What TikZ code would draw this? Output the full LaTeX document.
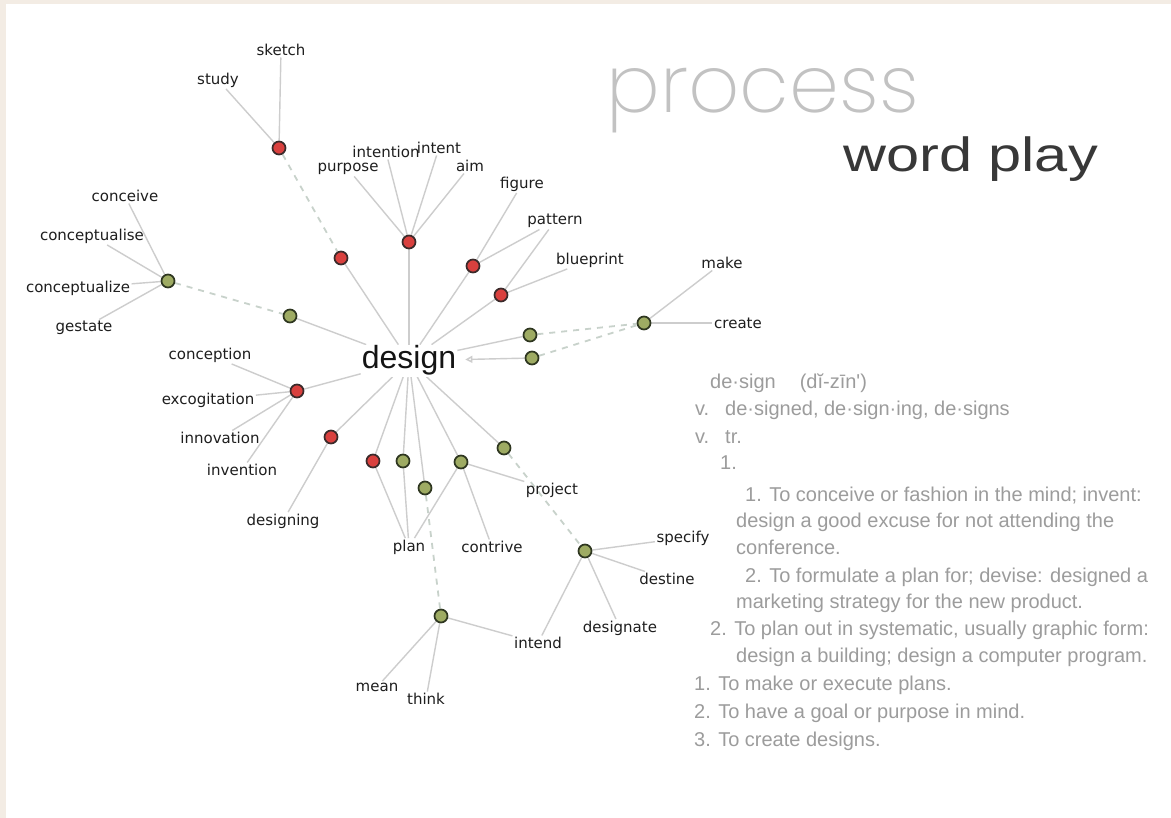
\documentclass[tikz,border=0pt]{standalone}
\usepackage{fontspec}
\setmainfont{DejaVu Sans}
\newfontfamily\deffont{Liberation Sans}
\IfFontExistsTF{Poppins ExtraLight}{\newfontfamily\thinfont{Poppins ExtraLight}}{%
 \IfFontExistsTF{Poppins Light}{\newfontfamily\thinfont{Poppins Light}}{\newfontfamily\thinfont{Liberation Sans}}}
\usetikzlibrary{arrows.meta}
\pgfdeclarelayer{back}
\pgfdeclarelayer{bg}
\pgfsetlayers{back,bg,main}
\definecolor{bgbeige}{HTML}{F3ECE4}
\definecolor{edgegray}{HTML}{CDCDCD}
\definecolor{dashgray}{HTML}{C8D2CB}
\definecolor{dotred}{HTML}{D9403E}
\definecolor{dotgreen}{HTML}{9EAB63}
\definecolor{redrim}{HTML}{3A2A2A}
\definecolor{greenrim}{HTML}{2E3620}
\definecolor{deftext}{HTML}{9C9C9C}
\definecolor{proctext}{HTML}{C2C2C2}
\definecolor{wordtext}{HTML}{383838}
\definecolor{lbltext}{HTML}{1E1E1E}
\tikzset{
  reddot/.style={circle, fill=dotred, draw=redrim, line width=1.7pt, minimum size=13pt, inner sep=0pt},
  greendot/.style={circle, fill=dotgreen, draw=greenrim, line width=1.7pt, minimum size=13pt, inner sep=0pt},
  lbl/.style={font=\fontsize{15}{17}\selectfont, text=lbltext, inner sep=1.5pt},
  edge/.style={draw=edgegray, line width=1.4pt},
  dashedge/.style={draw=dashgray, line width=1.8pt, dash pattern=on 6pt off 6pt},
  deftxt/.style={font=\deffont\fontsize{20}{22}\selectfont, text=deftext, anchor=base west, inner sep=0pt}
}
\begin{document}
\begin{tikzpicture}[x=1pt,y=-1pt]
\begin{pgfonlayer}{back}
\fill[bgbeige] (0,0) rectangle (1171,818);
\fill[white] (6,4) rectangle (1171,818);
\end{pgfonlayer}
\useasboundingbox (0,0) rectangle (1171,818);

% titles
\node[font=\thinfont\fontsize{80}{86}\selectfont, text=proctext, anchor=base west, inner sep=0pt] (process) at (606,113) {process};
\node[font=\deffont\fontsize{48}{50}\selectfont, text=wordtext, anchor=base west, inner sep=0pt] (wordplay) at (843,172) {\scalebox{1.24}[1]{word play}};

% hub
\node[font=\deffont\fontsize{32}{34}\selectfont, text=black!92, fill=white, inner sep=1pt, anchor=base] (design) at (409,369) {design};

% dots
\node[reddot] (R1) at (279,148) {};
\node[reddot] (R2) at (409,242) {};
\node[reddot] (R3) at (341,258) {};
\node[reddot] (R4) at (473,266) {};
\node[reddot] (R5) at (501,295) {};
\node[reddot] (R6) at (297,391) {};
\node[reddot] (R7) at (331,437) {};
\node[reddot] (R8) at (373,461) {};
\node[greendot] (G1) at (168,281) {};
\node[greendot] (G2) at (290,316) {};
\node[greendot] (G3) at (530,335) {};
\node[greendot] (G4) at (532,358) {};
\node[greendot] (Gm) at (644,323) {};
\node[greendot] (G5) at (403,461) {};
\node[greendot] (G6) at (425,488) {};
\node[greendot] (G7) at (461,462) {};
\node[greendot] (G8) at (504,448) {};
\node[greendot] (Gs) at (585,551) {};
\node[greendot] (Gt) at (441,616) {};

% labels
\node[lbl] (sketch) at (281,50) {sketch};
\node[lbl] (study) at (218,80) {study};
\node[lbl] (purpose) at (348,169) {purpose};
\node[lbl] (intention) at (386,152) {intention};
\node[lbl] (intent) at (439,148) {intent};
\node[lbl] (aim) at (470,166) {aim};
\node[lbl] (figure) at (522,184) {figure};
\node[lbl] (pattern) at (555,221) {pattern};
\node[lbl] (blueprint) at (590,260) {blueprint};
\node[lbl] (make) at (722,263) {make};
\node[lbl] (create) at (738,323) {create};
\node[lbl] (conceive) at (125,196) {conceive};
\node[lbl] (conceptualise) at (92,236) {conceptualise};
\node[lbl] (conceptualize) at (78,288) {conceptualize};
\node[lbl] (gestate) at (84,328) {gestate};
\node[lbl] (conception) at (210,355) {conception};
\node[lbl] (excogitation) at (208,400) {excogitation};
\node[lbl] (innovation) at (220,438) {innovation};
\node[lbl] (invention) at (242,470) {invention};
\node[lbl] (designing) at (283,521) {designing};
\node[lbl] (plan) at (409,547) {plan};
\node[lbl] (contrive) at (492,547) {contrive};
\node[lbl] (project) at (552,490) {project};
\node[lbl] (specify) at (683,538) {specify};
\node[lbl] (destine) at (667,579) {destine};
\node[lbl] (designate) at (620,628) {designate};
\node[lbl] (intend) at (538,643) {intend};
\node[lbl] (mean) at (377,687) {mean};
\node[lbl] (think) at (426,699) {think};

% edges
\begin{pgfonlayer}{bg}
\draw[edge] (R1) -- (study);
\draw[edge] (R1) -- (sketch);
\draw[dashedge] (R1) -- (R3);
\draw[edge] (R2) -- (purpose);
\draw[edge] (R2) -- (intention);
\draw[edge] (R2) -- (intent);
\draw[edge] (R2) -- (aim);
\draw[edge] (R2) -- (design);
\draw[edge] (R3) -- (design);
\draw[edge] (R4) -- (figure);
\draw[edge] (R4) -- (pattern);
\draw[edge] (R4) -- (design);
\draw[edge] (R5) -- (pattern);
\draw[edge] (R5) -- (blueprint);
\draw[edge] (R5) -- (design);
\draw[edge] (G1) -- (conceive);
\draw[edge] (G1) -- (conceptualise);
\draw[edge] (G1) -- (conceptualize);
\draw[edge] (G1) -- (gestate);
\draw[dashedge] (G1) -- (G2);
\draw[edge] (G2) -- (design);
\draw[edge] (G3) -- (design);
\draw[edge, shorten >=8pt, -{Triangle[open, length=7pt, width=7pt]}] (G4) -- (design);
\draw[dashedge] (G3) -- (Gm);
\draw[dashedge] (G4) -- (Gm);
\draw[edge] (Gm) -- (make);
\draw[edge] (Gm) -- (create);
\draw[edge] (R6) -- (conception);
\draw[edge] (R6) -- (excogitation);
\draw[edge] (R6) -- (innovation);
\draw[edge] (R6) -- (invention);
\draw[edge] (R6) -- (design);
\draw[edge] (R7) -- (designing);
\draw[edge] (R7) -- (design);
\draw[edge] (R8) -- (plan);
\draw[edge] (R8) -- (design);
\draw[edge] (G5) -- (plan);
\draw[edge] (G5) -- (design);
\draw[edge] (G6) -- (design);
\draw[dashedge] (G6) -- (Gt);
\draw[edge] (G7) -- (plan);
\draw[edge] (G7) -- (contrive);
\draw[edge] (G7) -- (project);
\draw[edge] (G7) -- (design);
\draw[edge] (G8) -- (design);
\draw[dashedge] (G8) -- (Gs);
\draw[edge] (Gs) -- (specify);
\draw[edge] (Gs) -- (destine);
\draw[edge] (Gs) -- (designate);
\draw[edge] (Gs) -- (intend);
\draw[edge] (Gt) -- (intend);
\draw[edge] (Gt) -- (mean);
\draw[edge] (Gt) -- (think);
\end{pgfonlayer}

% definition
\node[deftxt] (d1) at (710,389) {de·sign\hspace{1.2em}(dĭ-zīn')};
\node[deftxt] (d2v) at (695,416) {v.};
\node[deftxt] (d2) at (725,416) {de·signed, de·sign·ing, de·signs};
\node[deftxt] (d3v) at (695,443) {v.};
\node[deftxt] (d3) at (725,443) {tr.};
\node[deftxt] (d4) at (720,470) {1.};
\node[deftxt] (d5) at (745,501) {1. To conceive or fashion in the mind; invent:};
\node[deftxt] (d6) at (736,527) {design a good excuse for not attending the};
\node[deftxt] (d7) at (736,554) {conference.};
\node[deftxt] (d8) at (745,582) {2. To formulate a plan for; devise: designed a};
\node[deftxt] (d9) at (736,608) {marketing strategy for the new product.};
\node[deftxt] (d10) at (710,635) {2. To plan out in systematic, usually graphic form:};
\node[deftxt] (d11) at (736,662) {design a building; design a computer program.};
\node[deftxt] (d12) at (694,690) {1. To make or execute plans.};
\node[deftxt] (d13) at (694,718) {2. To have a goal or purpose in mind.};
\node[deftxt] (d14) at (694,746) {3. To create designs.};
\end{tikzpicture}
\end{document}
